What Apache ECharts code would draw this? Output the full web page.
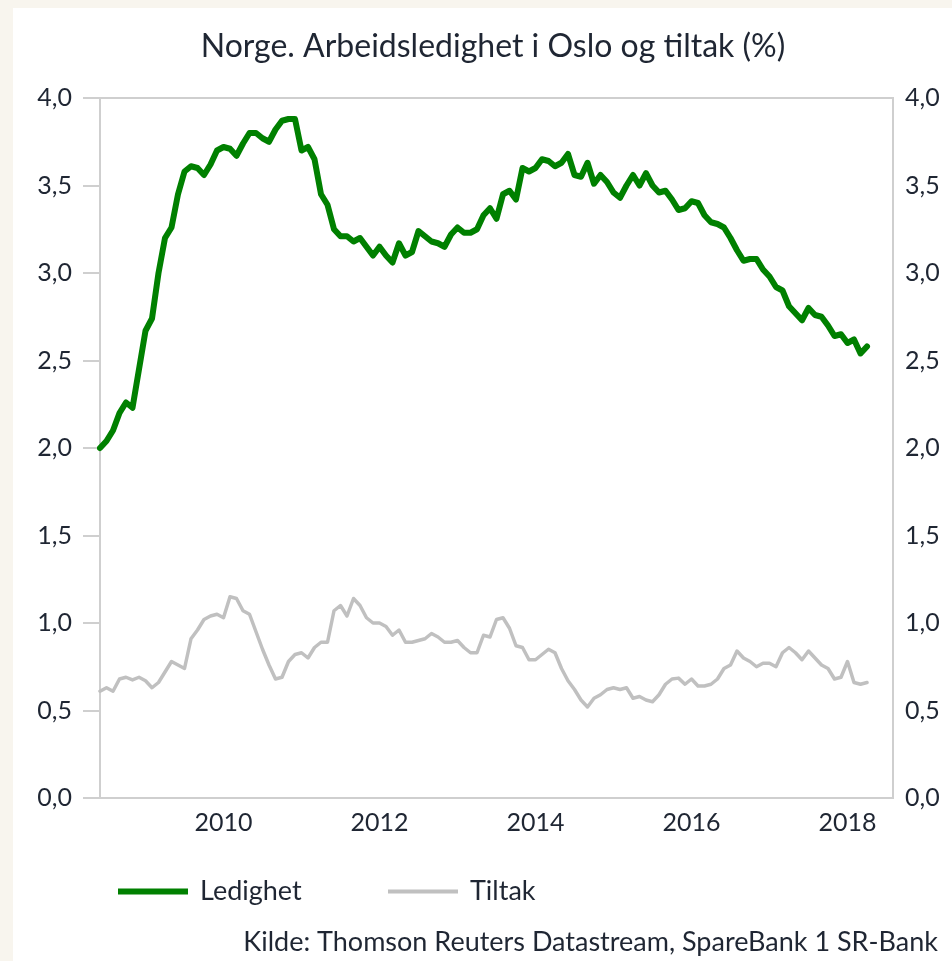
<!DOCTYPE html>
<html>
<head>
<meta charset="utf-8">
<script src="https://cdn.jsdelivr.net/npm/echarts@6/dist/echarts.min.js"></script>
<style>
  html, body { margin: 0; padding: 0; background: #f8f5ee; }
  #panel { position: absolute; left: 13px; top: 8px; width: 939px; height: 953px; background: #ffffff; }
  #chart { position: absolute; left: 0; top: 0; width: 952px; height: 961px; }
</style>
</head>
<body>
<div id="panel"></div>
<div id="chart"></div>
<script>
// Monthly categories: June 2008 to August 2018
const startYear = 2008, startMonth = 6, endYear = 2018, endMonth = 8;
const months = [];
for (let y = startYear, m = startMonth; y < endYear || (y === endYear && m <= endMonth); ) {
  months.push(y + '-' + String(m).padStart(2, '0'));
  m++; if (m > 12) { m = 1; y++; }
}
const yearLabels = ['2010', '2012', '2014', '2016', '2018'];
const yTicks = ['0,0','0,5','1,0','1,5','2,0','2,5','3,0','3,5','4,0'];

const ledighet = [
  2.00, 2.04, 2.10, 2.20, 2.26, 2.23, 2.45, 2.67, 2.74, 3.00,
  3.20, 3.26, 3.45, 3.58, 3.61, 3.60, 3.56, 3.62, 3.70, 3.72,
  3.71, 3.67, 3.74, 3.80, 3.80, 3.77, 3.75, 3.82, 3.87, 3.88,
  3.88, 3.70, 3.72, 3.65, 3.45, 3.39, 3.25, 3.21, 3.21, 3.18,
  3.20, 3.15, 3.10, 3.15, 3.10, 3.06, 3.17, 3.10, 3.12, 3.24,
  3.21, 3.18, 3.17, 3.15, 3.22, 3.26, 3.23, 3.23, 3.25, 3.33,
  3.37, 3.31, 3.45, 3.47, 3.42, 3.60, 3.58, 3.60, 3.65, 3.64,
  3.61, 3.63, 3.68, 3.56, 3.55, 3.63, 3.51, 3.56, 3.52, 3.46,
  3.43, 3.50, 3.56, 3.50, 3.57, 3.50, 3.46, 3.47, 3.42, 3.36,
  3.37, 3.41, 3.40, 3.33, 3.29, 3.28, 3.26, 3.20, 3.13, 3.07,
  3.08, 3.08, 3.02, 2.98, 2.92, 2.90, 2.81, 2.77, 2.73, 2.80,
  2.76, 2.75, 2.70, 2.64, 2.65, 2.60, 2.62, 2.54, 2.58
];
const tiltak = [
  0.61, 0.63, 0.61, 0.68, 0.69, 0.675, 0.69, 0.67, 0.63, 0.66,
  0.72, 0.78, 0.76, 0.74, 0.91, 0.96, 1.02, 1.04, 1.05, 1.03,
  1.15, 1.14, 1.07, 1.05, 0.95, 0.85, 0.76, 0.68, 0.69, 0.78,
  0.82, 0.83, 0.80, 0.86, 0.89, 0.89, 1.07, 1.10, 1.04, 1.14,
  1.10, 1.03, 1.00, 1.00, 0.98, 0.93, 0.96, 0.89, 0.89, 0.90,
  0.91, 0.94, 0.92, 0.89, 0.89, 0.90, 0.86, 0.83, 0.83, 0.93,
  0.92, 1.02, 1.03, 0.97, 0.87, 0.86, 0.79, 0.79, 0.82, 0.85,
  0.83, 0.74, 0.67, 0.62, 0.56, 0.52, 0.57, 0.59, 0.62, 0.63,
  0.62, 0.63, 0.57, 0.58, 0.56, 0.55, 0.59, 0.65, 0.68, 0.685,
  0.65, 0.68, 0.64, 0.64, 0.65, 0.68, 0.74, 0.76, 0.84, 0.80,
  0.78, 0.75, 0.77, 0.77, 0.75, 0.83, 0.86, 0.83, 0.79, 0.84,
  0.80, 0.76, 0.74, 0.68, 0.69, 0.78, 0.66, 0.65, 0.66
];

const FONT = 'Lato';
const TXT = '#1f2633';
const AXIS = '#cfcfcf';

const chart = echarts.init(document.getElementById('chart'), null, { renderer: 'canvas' });

const yAxisBase = {
  type: 'value', min: 0, max: 4, interval: 0.5,
  splitLine: { show: false },
  axisLine: { show: true, lineStyle: { color: AXIS, width: 2 } },
  axisLabel: {
    color: TXT, fontFamily: FONT, fontSize: 25,
    formatter: v => yTicks[Math.round(v / 0.5)]
  }
};

chart.setOption({
  backgroundColor: 'transparent',
  animation: false,
  title: {
    text: 'Norge. Arbeidsledighet i Oslo og tiltak (%)',
    left: 488, top: 26, textAlign: 'center',
    textStyle: { color: TXT, fontFamily: FONT, fontSize: 32, fontWeight: 'normal' }
  },
  grid: {
    left: 100, right: 59, top: 98, bottom: 163,
    show: true, borderColor: AXIS, borderWidth: 2, backgroundColor: 'transparent'
  },
  legend: [
    {
      data: ['Ledighet'], left: 113, top: 873, itemWidth: 70, itemHeight: 6,
      icon: 'rect',
      textStyle: { color: TXT, fontFamily: FONT, fontSize: 27, padding: [0, 0, 0, 7] }
    },
    {
      data: ['Tiltak'], left: 383, top: 873, itemWidth: 70, itemHeight: 4,
      icon: 'rect',
      textStyle: { color: TXT, fontFamily: FONT, fontSize: 27, padding: [0, 0, 0, 7] }
    }
  ],
  xAxis: {
    type: 'category', data: months, boundaryGap: false,
    axisLine: { show: true, lineStyle: { color: AXIS, width: 2 } },
    axisTick: { show: false },
    splitLine: { show: false },
    axisLabel: {
      color: TXT, fontFamily: FONT, fontSize: 25, margin: 12,
      interval: (idx, val) => val.endsWith('-01') && yearLabels.includes(val.slice(0, 4)),
      formatter: val => val.slice(0, 4)
    }
  },
  yAxis: [
    Object.assign({}, yAxisBase, {
      position: 'left',
      axisTick: { show: true, inside: false, length: 17, lineStyle: { color: AXIS, width: 2 } },
      axisLabel: Object.assign({}, yAxisBase.axisLabel, { margin: 28 })
    }),
    Object.assign({}, yAxisBase, {
      position: 'right',
      axisTick: { show: false },
      axisLabel: Object.assign({}, yAxisBase.axisLabel, { margin: 12 })
    })
  ],
  series: [
    {
      name: 'Ledighet', type: 'line', data: ledighet, yAxisIndex: 0,
      symbol: 'none', showSymbol: false, z: 3,
      itemStyle: { color: '#008000' },
      lineStyle: { color: '#008000', width: 6, join: 'round', cap: 'round' }
    },
    {
      name: 'Tiltak', type: 'line', data: tiltak, yAxisIndex: 0,
      symbol: 'none', showSymbol: false, z: 2,
      itemStyle: { color: '#c0c0c0' },
      lineStyle: { color: '#c0c0c0', width: 3.5, join: 'round', cap: 'round' }
    }
  ],
  graphic: [
    {
      type: 'text', right: 14, top: 929, silent: true,
      style: {
        text: 'Kilde: Thomson Reuters Datastream, SpareBank 1 SR-Bank',
        fill: TXT, font: '27px ' + FONT
      }
    }
  ]
});
</script>
</body>
</html>
